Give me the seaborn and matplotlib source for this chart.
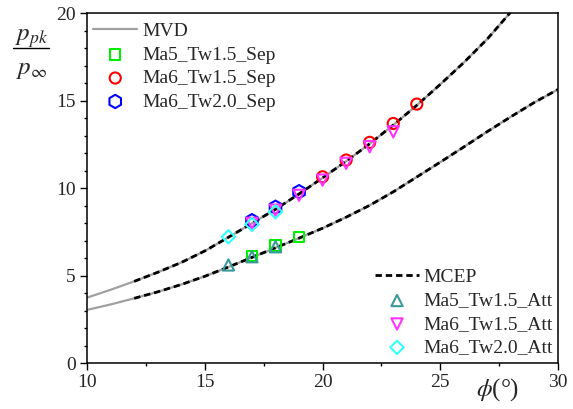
import matplotlib
matplotlib.use("Agg")
import matplotlib.pyplot as plt
import seaborn as sns
from matplotlib.ticker import MultipleLocator
from matplotlib.lines import Line2D

# Peak-pressure ratio curves versus wedge angle (degrees)
phi_curve = [10, 11, 12, 13, 14, 15, 16, 17, 18, 19, 20,
             21, 22, 23, 24, 25, 26, 27, 28, 29, 30]
ratio_upper = [3.75, 4.20, 4.68, 5.20, 5.76, 6.42, 7.20, 8.00, 8.80, 9.68, 10.60,
               11.55, 12.55, 13.62, 14.75, 15.95, 17.20, 18.55, 20.10]
ratio_lower = [3.05, 3.36, 3.71, 4.08, 4.50, 4.97, 5.50, 6.05, 6.60, 7.15, 7.72,
               8.35, 9.03, 9.80, 10.65, 11.50, 12.37, 13.25, 14.10, 14.92, 15.66]
mcep_start = 12  # MCEP prediction is only available from this angle on

# Separated-flow cases
sep_ma5_tw15_x = [17, 18, 19]
sep_ma5_tw15_y = [6.13, 6.72, 7.20]
sep_ma6_tw15_x = [20, 21, 22, 23, 24]
sep_ma6_tw15_y = [10.66, 11.62, 12.63, 13.71, 14.82]
sep_ma6_tw20_x = [17, 18, 19]
sep_ma6_tw20_y = [8.15, 8.92, 9.81]

# Attached-flow cases
att_ma5_tw15_x = [16, 17, 18]
att_ma5_tw15_y = [5.62, 6.09, 6.66]
att_ma6_tw15_x = [17, 18, 19, 20, 21, 22, 23]
att_ma6_tw15_y = [8.00, 8.75, 9.60, 10.47, 11.43, 12.38, 13.23]
att_ma6_tw20_x = [16, 17, 18]
att_ma6_tw20_y = [7.23, 7.94, 8.66]

x_ticks = [10, 15, 20, 25, 30]
y_ticks = [0, 5, 10, 15, 20]

sns.set_style("ticks")
plt.rcParams["font.family"] = ["Liberation Serif", "DejaVu Serif"]
plt.rcParams["mathtext.fontset"] = "stix"

fig = plt.figure(figsize=(5.73, 4.09), dpi=100)
ax = fig.add_axes([0.152, 0.112, 0.822, 0.855])

gray = "#a0a0a0"
n_up = len(ratio_upper)
sns.lineplot(x=phi_curve[:n_up], y=ratio_upper, ax=ax, color=gray, lw=1.6,
             label="MVD", sort=False)
sns.lineplot(x=phi_curve, y=ratio_lower, ax=ax, color=gray, lw=1.6, sort=False)

i0 = phi_curve.index(mcep_start)
dash = (0, (2.3, 1.4))
sns.lineplot(x=phi_curve[i0:n_up], y=ratio_upper[i0:], ax=ax, color="black",
             lw=2.0, linestyle=dash, label="MCEP", sort=False)
sns.lineplot(x=phi_curve[i0:], y=ratio_lower[i0:], ax=ax, color="black",
             lw=2.0, linestyle=dash, sort=False)

series = [
    (sep_ma5_tw15_x, sep_ma5_tw15_y, "s", 56, "#00ee00", "Ma5_Tw1.5_Sep"),
    (sep_ma6_tw15_x, sep_ma6_tw15_y, "o", 64, "#ff0000", "Ma6_Tw1.5_Sep"),
    (sep_ma6_tw20_x, sep_ma6_tw20_y, "h", 92, "#0000ff", "Ma6_Tw2.0_Sep"),
    (att_ma5_tw15_x, att_ma5_tw15_y, "^", 66, "#3a9a9a", "Ma5_Tw1.5_Att"),
    (att_ma6_tw15_x, att_ma6_tw15_y, "v", 66, "#ff33ff", "Ma6_Tw1.5_Att"),
    (att_ma6_tw20_x, att_ma6_tw20_y, "D", 46, "#33ffff", "Ma6_Tw2.0_Att"),
]
for xs, ys, mk, size, col, lab in series:
    sns.scatterplot(x=xs, y=ys, ax=ax, marker=mk, s=size, facecolor="none",
                    edgecolor=col, linewidth=1.5, label=lab, zorder=3)

ax.set_xlim(10, 30)
ax.set_ylim(0, 20)
ax.set_xticks(x_ticks)
ax.set_yticks(y_ticks)
ax.xaxis.set_minor_locator(MultipleLocator(2.5))
ax.yaxis.set_minor_locator(MultipleLocator(1))
ax.tick_params(which="major", direction="out", length=5, width=1.0,
               labelsize=14, pad=3, color="black")
ax.tick_params(which="minor", direction="out", length=2.5, width=1.0,
               color="black")
for sp in ax.spines.values():
    sp.set_visible(True)
    sp.set_linewidth(1.1)
    sp.set_color("black")
ax.set_xlabel("")
ax.set_ylabel("")

# Two legends: MVD with separated cases, MCEP with attached cases
handles, labels = ax.get_legend_handles_labels()
hmap = dict(zip(labels, handles))
if ax.get_legend() is not None:
    ax.get_legend().remove()

leg_kw = dict(frameon=False, fontsize=14, handlelength=2.25, handletextpad=0.25,
              labelspacing=0.3, borderpad=0.2, borderaxespad=0.0)
top_labels = ["MVD", "Ma5_Tw1.5_Sep", "Ma6_Tw1.5_Sep", "Ma6_Tw2.0_Sep"]
bot_labels = ["MCEP", "Ma5_Tw1.5_Att", "Ma6_Tw1.5_Att", "Ma6_Tw2.0_Att"]
leg1 = ax.legend([hmap[l] for l in top_labels], top_labels, loc="upper left",
                 bbox_to_anchor=(0.005, 0.985), **leg_kw)
ax.add_artist(leg1)
ax.legend([hmap[l] for l in bot_labels], bot_labels, loc="lower right",
          bbox_to_anchor=(0.998, 0.008), **leg_kw)

# Axis titles
ax.text(0.872, -0.075, r"$\phi$(°)", transform=ax.transAxes, fontsize=18,
        ha="center", va="center")
fig.text(0.055, 0.905, r"$p_{pk}$", fontsize=18, ha="center", va="center")
fig.add_artist(Line2D([0.022, 0.085], [0.882, 0.882], color="black", lw=1.0,
                      transform=fig.transFigure))
fig.text(0.055, 0.828, r"$p_{\infty}$", fontsize=18, ha="center", va="center")

fig.savefig("out.png", dpi=100)
